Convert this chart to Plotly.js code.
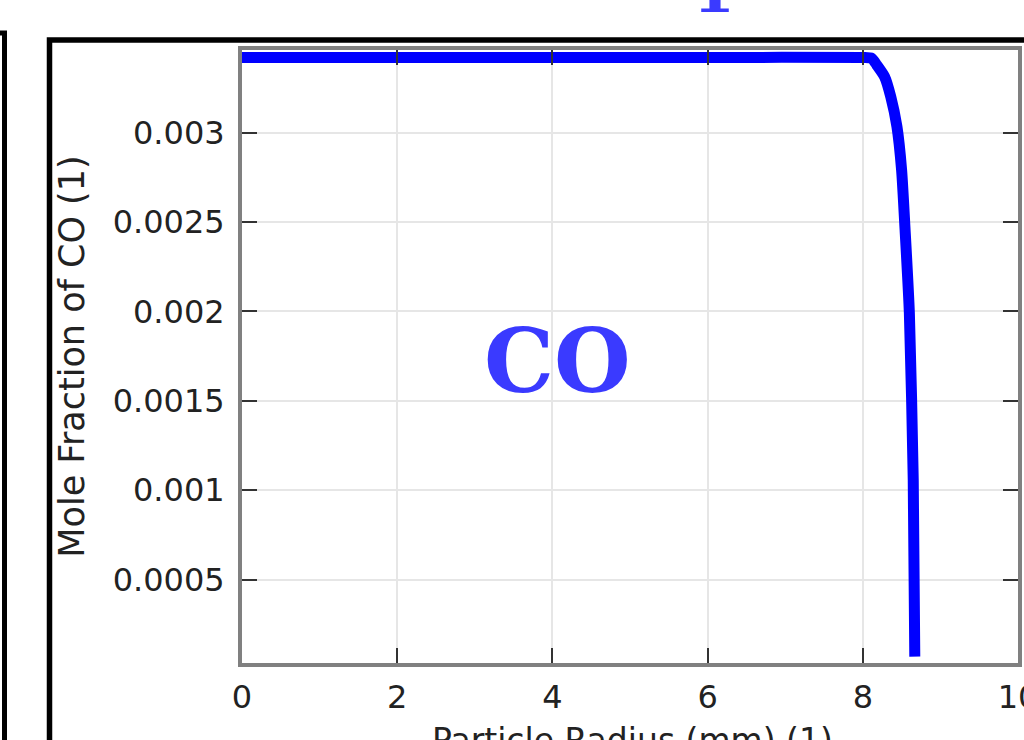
<!DOCTYPE html>
<html>
<head>
<meta charset="utf-8">
<script src="https://cdn.plot.ly/plotly-3.0.1.min.js"></script>
<style>
  html, body { margin: 0; padding: 0; background: #ffffff; }
  #chart { width: 1024px; height: 740px; }
</style>
</head>
<body>
<div id="chart"></div>
<script>
// Data
const particleRadius = [0, 2, 4, 6, 8, 8.115, 8.18, 8.28, 8.36, 8.44, 8.50, 8.545, 8.60, 8.65, 8.67];
const moleFractionCO = [0.00342, 0.00342, 0.00342, 0.00342, 0.00342, 0.003416, 0.003378, 0.003313, 0.003201, 0.003033, 0.002791, 0.002455, 0.001991, 0.001057, 0.000069];

const xTickVals = [0, 2, 4, 6, 8, 10];
const xTickText = ["0", "2", "4", "6", "8", "10"];
const yTickVals = [0.0005, 0.001, 0.0015, 0.002, 0.0025, 0.003];
const yTickText = ["0.0005", "0.001", "0.0015", "0.002", "0.0025", "0.003"];

const speciesLabel = "CO";
const panelLabel = "1";
const xTitle = "Particle Radius (mm) (1)";
const yTitle = "Mole Fraction of CO (1)";

const labelBlue = "#3a3aff";

const trace = {
  x: particleRadius,
  y: moleFractionCO,
  type: "scatter",
  mode: "lines",
  line: { color: "#0000ff", width: 11, shape: "spline", smoothing: 0.6 },
  hoverinfo: "skip",
  showlegend: false
};

const axisCommon = {
  showline: true,
  linecolor: "#808080",
  linewidth: 4,
  mirror: "ticks",
  ticks: "inside",
  ticklen: 15,
  tickwidth: 2,
  tickcolor: "#333333",
  showgrid: true,
  gridcolor: "#e6e6e6",
  gridwidth: 2,
  zeroline: false,
  ticklabeloverflow: "allow",
  tickfont: { family: "DejaVu Sans", size: 32, color: "#222222" }
};

const layout = {
  width: 1024,
  height: 740,
  margin: { l: 242, r: 6, t: 50, b: 77, autoexpand: false },
  paper_bgcolor: "#ffffff",
  plot_bgcolor: "#ffffff",
  showlegend: false,
  xaxis: Object.assign({}, axisCommon, {
    range: [0, 10],
    tickmode: "array",
    tickvals: xTickVals,
    ticktext: xTickText,
    ticklabelstandoff: 3
  }),
  yaxis: Object.assign({}, axisCommon, {
    range: [0.0000336, 0.003462],
    tickmode: "array",
    tickvals: yTickVals,
    ticktext: yTickText,
    ticklabelstandoff: 7,
    title: { text: yTitle, font: { family: "DejaVu Sans", size: 35, color: "#222222" }, standoff: 18 }
  }),
  annotations: [
    {
      text: xTitle,
      xref: "paper", yref: "paper",
      x: (632 - 242) / 776, y: (663 - 719) / 613,
      xanchor: "center", yanchor: "top",
      showarrow: false,
      font: { family: "DejaVu Sans", size: 33, color: "#222222" }
    },
    {
      text: speciesLabel,
      xref: "x", yref: "y",
      x: 4.06, y: 0.001725,
      xanchor: "center", yanchor: "middle",
      showarrow: false,
      font: { family: "DejaVu Serif", size: 88, color: labelBlue, weight: "bold" }
    },
    {
      text: panelLabel,
      xref: "paper", yref: "paper",
      x: (713.5 - 242) / 776, y: (663 - 28) / 613,
      xanchor: "center", yanchor: "bottom",
      showarrow: false,
      font: { family: "DejaVu Serif", size: 60, color: labelBlue, weight: "bold" }
    }
  ],
  shapes: [
    {
      type: "rect", xref: "paper", yref: "paper",
      x0: -0.6, x1: (4.5 - 242) / 776,
      y0: -0.3, y1: (663 - 33) / 613,
      line: { color: "#000000", width: 5 },
      fillcolor: "rgba(0,0,0,0)",
      layer: "above"
    },
    {
      type: "rect", xref: "paper", yref: "paper",
      x0: (49.5 - 242) / 776, x1: 1.2,
      y0: -0.3, y1: (663 - 40) / 613,
      line: { color: "#000000", width: 5.5 },
      fillcolor: "rgba(0,0,0,0)",
      layer: "above"
    }
  ]
};

Plotly.newPlot("chart", [trace], layout, { staticPlot: true, displayModeBar: false });
</script>
</body>
</html>
